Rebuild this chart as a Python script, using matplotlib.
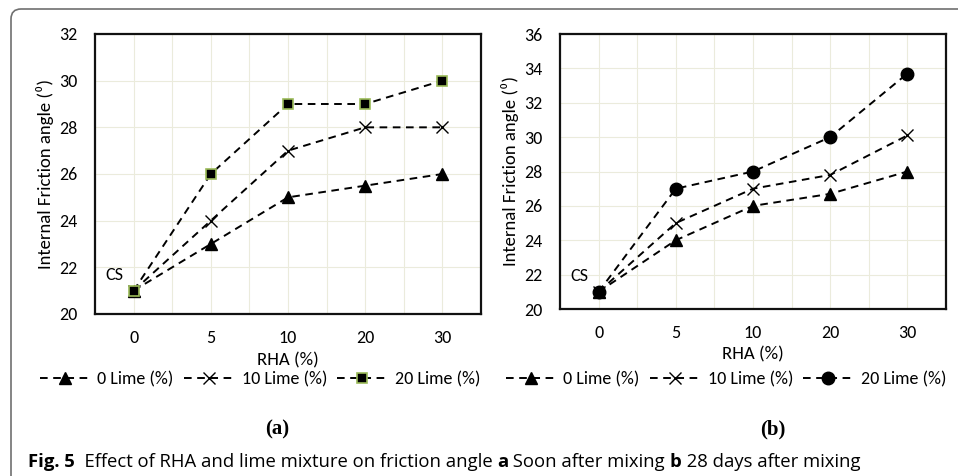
import matplotlib
matplotlib.use('Agg')
import matplotlib.pyplot as plt
from matplotlib.path import Path
from matplotlib.patches import PathPatch
from matplotlib.ticker import MultipleLocator, FixedLocator
from matplotlib import font_manager


def have_font(name):
    try:
        font_manager.findfont(name, fallback_to_default=False)
        return True
    except Exception:
        return False


body_font = 'Carlito' if have_font('Carlito') else 'Open Sans'

plt.rcParams.update({
    'font.family': [body_font, 'DejaVu Sans'],
    'font.size': 13,
    'lines.scale_dashes': False,
})

# data
rha_labels = ['0', '5', '10', '20', '30']
series_names = ['0 Lime (%)', '10 Lime (%)', '20 Lime (%)']

a_lime0 = [21, 23, 25, 25.5, 26]
a_lime10 = [21, 24, 27, 28, 28]
a_lime20 = [21, 26, 29, 29, 30]

b_lime0 = [21, 24, 26, 26.7, 28]
b_lime10 = [21, 25, 27, 27.8, 30.1]
b_lime20 = [21, 27, 28, 30, 33.7]

W, H = 958, 476
fig = plt.figure(figsize=(W / 100, H / 100), dpi=100)


def px_axes(left, top, right, bottom):
    return fig.add_axes([left / W, 1 - bottom / H, (right - left) / W, (bottom - top) / H])


GRID = '#ebebdc'
DASH = (5.5, 4)


def draw_panel(ax, s0, s10, s20, ymax, last_marker):
    x = list(range(len(rha_labels)))
    styles = [
        dict(marker='^', ms=8, mfc='black', mec='black'),
        dict(marker='x', ms=8, mfc='none', mec='black', mew=1.0),
        last_marker,
    ]
    handles = []
    for vals, name, st in zip([s0, s10, s20], series_names, styles):
        h, = ax.plot(x, vals, color='black', lw=1.4, dashes=DASH,
                     label=name, zorder=3, **st)
        handles.append(h)

    ax.set_xlim(-0.5, len(rha_labels) - 0.5)
    ax.set_ylim(20, ymax)
    ax.xaxis.set_major_locator(FixedLocator(x))
    ax.xaxis.set_minor_locator(FixedLocator([i + 0.5 for i in x[:-1]]))
    ax.set_xticklabels(rha_labels)
    ax.yaxis.set_major_locator(MultipleLocator(2))
    ax.grid(True, which='both', axis='x', color=GRID, lw=0.8, zorder=0)
    ax.grid(True, which='major', axis='y', color=GRID, lw=0.8, zorder=0)
    ax.tick_params(axis='both', which='both', length=0, labelsize=13)
    ax.tick_params(axis='x', pad=11.5)
    ax.tick_params(axis='y', pad=12.5)
    for sp in ax.spines.values():
        sp.set_linewidth(1.6)
        sp.set_color('#111111')
    ax.set_axisbelow(True)

    ax.set_xlabel('RHA (%)', fontsize=13.5)
    ax.xaxis.set_label_coords(0.5, -0.165)
    ax.xaxis.label.set_va('center')
    ax.set_ylabel('Internal Friction angle (\u2070)', fontsize=13.5)
    ax.yaxis.set_label_coords(-0.13, 0.5)
    ax.yaxis.label.set_va('center')

    ax.annotate('CS', xy=(0, 21), xytext=(-14, 11.5), textcoords='offset points',
                ha='center', va='center', fontsize=13)
    return handles


ax_a = px_axes(95, 34, 481, 314)
h_a = draw_panel(ax_a, a_lime0, a_lime10, a_lime20, 32,
                 dict(marker='s', ms=7.5, mfc='black', mec='#9bbb59', mew=1.2))
ax_b = px_axes(560, 34, 946, 309)
h_b = draw_panel(ax_b, b_lime0, b_lime10, b_lime20, 36,
                 dict(marker='o', ms=9, mfc='black', mec='black'))

for handles, cx in [(h_a, 260), (h_b, 726)]:
    fig.legend(handles=handles, loc='center', bbox_to_anchor=(cx / W, 1 - 379 / H),
               ncol=3, frameon=False, handlelength=2.8, handletextpad=0.4,
               columnspacing=0.55, fontsize=13, borderpad=0, borderaxespad=0)

serif_bold = dict(family=['Liberation Serif', 'DejaVu Serif'], weight='bold', fontsize=15)
fig.text(277 / W, 1 - 429 / H, '(a)', ha='center', va='center', **serif_bold)
fig.text(773 / W, 1 - 429 / H, '(b)', ha='center', va='center', **serif_bold)

# outer frame: left edge and top edge with rounded corner
r = 0.10
x0, y0 = 0.11, (H - 9) / 100
verts = [(x0, -0.1), (x0, y0 - r), (x0, y0), (x0 + r, y0), (W / 100 + 0.1, y0)]
codes = [Path.MOVETO, Path.LINETO, Path.CURVE3, Path.CURVE3, Path.LINETO]
fig.patches.append(PathPatch(Path(verts, codes), transform=fig.dpi_scale_trans,
                             fill=False, edgecolor='#707070', lw=1.2))

# caption with mixed weights
cap_family = 'Liberation Sans Narrow' if have_font('Liberation Sans Narrow') else 'Open Sans'

pieces = [('Fig. 5', 'bold'), ('  Effect of RHA and lime mixture on friction angle ', 'normal'),
          ('a', 'bold'), (' Soon after mixing ', 'normal'), ('b', 'bold'),
          (' 28 days after mixing', 'normal')]
fig.canvas.draw()
renderer = fig.canvas.get_renderer()
xpos = 28
for txt, wt in pieces:
    t = fig.text(xpos / W, 1 - 462 / H, txt, ha='left', va='center',
                 family=cap_family, weight=wt, fontsize=13.3)
    xpos += t.get_window_extent(renderer).width

fig.savefig('out.png', dpi=100)
